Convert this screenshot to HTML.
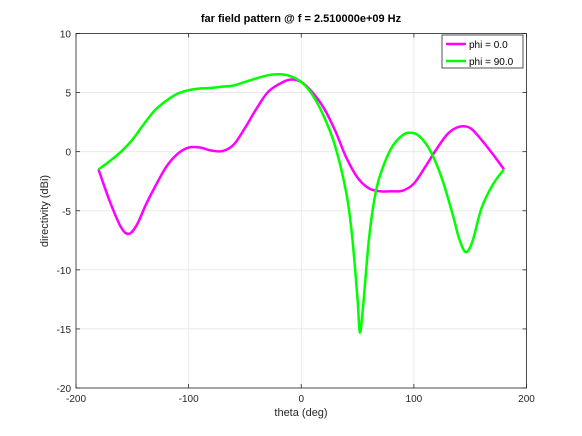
<!DOCTYPE html>
<html><head><meta charset="utf-8">
<style>
body{margin:0;background:#fff;}
svg{display:block;font-family:"Liberation Sans",sans-serif;}
</style></head>
<body>
<svg id="chart" width="582" height="436" viewBox="0 0 582 436">
<rect width="582" height="436" fill="#fff"/>
<g id="grid"></g>
<g id="axes"></g>
<g id="series"></g>
<text x="301" y="22" text-anchor="middle" font-size="11" font-weight="bold" fill="#000">far field pattern @ f = 2.510000e+09 Hz</text>
<text x="301" y="416" text-anchor="middle" font-size="11" fill="#262626">theta (deg)</text>
<text transform="translate(48,211) rotate(-90)" text-anchor="middle" font-size="11" fill="#262626">directivity (dBi)</text>
<g>
<rect x="442" y="35" width="81" height="33" fill="#fff" stroke="#262626" stroke-width="0.8"/>
<line x1="446" y1="44" x2="466" y2="44" stroke="#ff00ff" stroke-width="2.5"/>
<text x="469" y="48" font-size="10" fill="#000">phi = 0.0</text>
<line x1="446" y1="61" x2="466" y2="61" stroke="#00ff00" stroke-width="2.5"/>
<text x="469" y="65" font-size="10" fill="#000">phi = 90.0</text>
</g>
</svg>
<script>
const thetaPhi0 = [-180,-170,-160,-153,-146,-138,-130,-120,-110,-100,-90,-80,-70,-60,-50,-40,-30,-20,-10,0,10,20,30,40,50,60,70,80,90,100,110,120,130,140,150,160,170,180];
const valuesPhi0 = [-1.5,-4.2,-6.4,-6.95,-6.2,-4.5,-3,-1.3,-0.2,0.35,0.35,0.1,0.05,0.6,2,3.6,5,5.7,6.1,5.9,5,3.7,1.8,-0.5,-2.2,-3.1,-3.35,-3.35,-3.3,-2.7,-1.3,0.2,1.5,2.1,2.0,1,-0.2,-1.5];
const thetaPhi90 = [-180,-170,-160,-150,-140,-130,-120,-110,-100,-90,-80,-70,-60,-50,-40,-30,-20,-10,0,10,20,30,40,45,50,52,55,60,65,70,80,90,97,105,115,125,135,140,146,152,160,170,180];
const valuesPhi90 = [-1.5,-0.8,0,1,2.3,3.5,4.3,4.9,5.2,5.35,5.4,5.5,5.6,5.9,6.2,6.45,6.55,6.4,5.9,4.8,3.0,0.5,-3.5,-7,-12.5,-15.3,-13,-7.5,-4,-2,0.3,1.4,1.6,1.3,0,-2.3,-5.5,-7.3,-8.5,-7.6,-4.8,-2.8,-1.5];
const xTicks = [-200,-100,0,100,200];
const yTicks = [10,5,0,-5,-10,-15,-20];

const X0=76,X1=526.5,Y0=33.5,Y1=388;
const xs = v => X0 + (v+200)/400*(X1-X0);
const ys = v => Y0 + (10-v)/30*(Y1-Y0);
const NS='http://www.w3.org/2000/svg';
function mk(tag, attrs, parent){const e=document.createElementNS(NS,tag);for(const k in attrs)e.setAttribute(k,attrs[k]);parent.appendChild(e);return e;}
const grid=document.getElementById('grid'), axes=document.getElementById('axes'), series=document.getElementById('series');

xTicks.forEach(t=>{
  const x=xs(t);
  const g=mk('line',{x1:x,x2:x,y1:Y0,y2:Y1,stroke:'#e6e6e6','stroke-width':0.8},grid);
  
  
  mk('line',{x1:x,x2:x,y1:Y1,y2:Y1-4,stroke:'#262626','stroke-width':0.8},axes);
  mk('line',{x1:x,x2:x,y1:Y0,y2:Y0+4,stroke:'#262626','stroke-width':0.8},axes);
  const tx=mk('text',{x:x,y:Y1+14,'text-anchor':'middle','font-size':10,fill:'#262626'},axes);
  tx.textContent=t;
  
  
});
yTicks.forEach(t=>{
  const y=ys(t);
  const g=mk('line',{x1:X0,x2:X1,y1:y,y2:y,stroke:'#e6e6e6','stroke-width':0.8},grid);
  
  
  mk('line',{x1:X0,x2:X0+4,y1:y,y2:y,stroke:'#262626','stroke-width':0.8},axes);
  mk('line',{x1:X1,x2:X1-4,y1:y,y2:y,stroke:'#262626','stroke-width':0.8},axes);
  const tx=mk('text',{x:X0-5,y:y+4,'text-anchor':'end','font-size':10,fill:'#262626'},axes);
  tx.textContent=t;
  
  
});
const box=mk('rect',{x:X0,y:Y0,width:X1-X0,height:Y1-Y0,fill:'none',stroke:'#262626','stroke-width':0.8},axes);



function pathFor(tx, vy){
  const p=tx.map((t,i)=>[xs(t),ys(vy[i])]);
  let d='M'+p[0][0]+','+p[0][1];
  for(let i=0;i<p.length-1;i++){
    const p0=p[Math.max(0,i-1)],p1=p[i],p2=p[i+1],p3=p[Math.min(p.length-1,i+2)];
    const c1=[p1[0]+(p2[0]-p0[0])/6,p1[1]+(p2[1]-p0[1])/6];
    const c2=[p2[0]-(p3[0]-p1[0])/6,p2[1]-(p3[1]-p1[1])/6];
    d+=' C'+c1+' '+c2+' '+p2;
  }
  return d;
}
const l0=mk('path',{d:pathFor(thetaPhi0,valuesPhi0),fill:'none',stroke:'#ff00ff','stroke-width':2.5,'stroke-linejoin':'round'},series);


const l90=mk('path',{d:pathFor(thetaPhi90,valuesPhi90),fill:'none',stroke:'#00ff00','stroke-width':2.5,'stroke-linejoin':'round'},series);


</script>
</body></html>
